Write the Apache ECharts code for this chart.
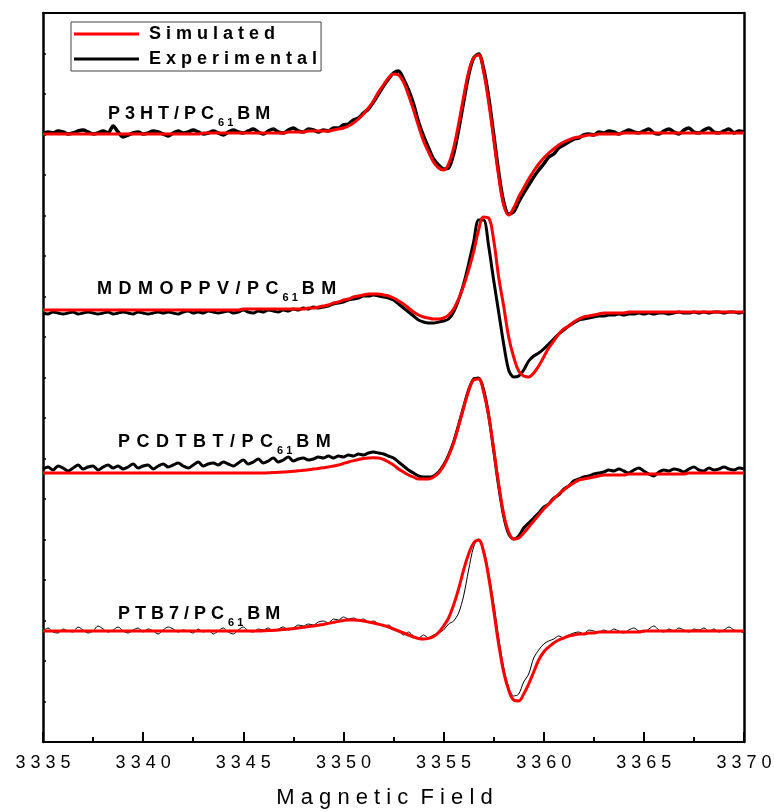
<!DOCTYPE html>
<html><head><meta charset="utf-8">
<script src="https://cdn.jsdelivr.net/npm/echarts/dist/echarts.min.js"></script>
<style>html,body{margin:0;padding:0;background:#fff}#c{width:774px;height:812px}</style>
</head><body><div id="c"></div>
<script>
// Magnetic field (G)
const field = [
3335,3335.25,3335.5,3335.75,3336,3336.25,3336.5,3336.75,3337,3337.25,3337.5,3337.75,
3338,3338.25,3338.5,3338.75,3339,3339.25,3339.5,3339.75,3340,3340.25,3340.5,3340.75,
3341,3341.25,3341.5,3341.75,3342,3342.25,3342.5,3342.75,3343,3343.25,3343.5,3343.75,
3344,3344.25,3344.5,3344.75,3345,3345.25,3345.5,3345.75,3346,3346.25,3346.5,3346.75,
3347,3347.25,3347.5,3347.75,3348,3348.25,3348.5,3348.75,3349,3349.25,3349.5,3349.75,
3350,3350.25,3350.5,3350.75,3351,3351.25,3351.5,3351.75,3352,3352.25,3352.5,3352.75,
3353,3353.25,3353.5,3353.75,3354,3354.25,3354.5,3354.75,3355,3355.25,3355.5,3355.75,
3356,3356.25,3356.5,3356.75,3357,3357.25,3357.5,3357.75,3358,3358.25,3358.5,3358.75,
3359,3359.25,3359.5,3359.75,3360,3360.25,3360.5,3360.75,3361,3361.25,3361.5,3361.75,
3362,3362.25,3362.5,3362.75,3363,3363.25,3363.5,3363.75,3364,3364.25,3364.5,3364.75,
3365,3365.25,3365.5,3365.75,3366,3366.25,3366.5,3366.75,3367,3367.25,3367.5,3367.75,
3368,3368.25,3368.5,3368.75,3369,3369.25,3369.5,3369.75,3370];

// P3HT/PC61BM (stacked intensity, arb. units)
const simP3HT = [
608,608,608,608,608,608,608,608,608,608,608,608,608,608,608,608,
608,608,608,608,608,608,608,608,608,608,608,608,608,608,608,608,
609,609,609,609,609,609,609,609,609,609,609,609,609,609,609,609,
609,610,610,610,610,611,611,611,611,611,612,613,614,616,619,623,
628,634,641,650,657,664,668,667,660,647,632,616,601,590,580,574,
572,578,594,618,645,670,684,687,670,640,603,566,537,527,534,545,
554,563,571,578,584,589,593,597,600,602,604,605,606,607,607,608,
608,608,608,608,609,609,609,609,609,609,609,609,609,609,609,609,
609,609,609,609,609,609,609,609,609,609,609,609,609];
const expP3HT = [
608,610,609,611,610,608,609,611,612,610,608,609,611,609,616,610,
605,607,609,610,608,609,611,610,608,606,609,611,609,610,612,610,
608,609,611,609,607,610,612,610,609,611,613,610,608,611,613,610,
609,612,614,611,610,613,612,610,612,611,614,614,617,618,622,624,
629,633,640,648,656,663,669,671,663,652,638,620,606,594,583,577,
573,574,588,612,640,667,684,688,673,645,608,570,540,528,530,540,
549,557,565,572,578,585,588,594,597,600,603,604,607,608,607,610,
609,611,610,608,610,612,610,609,611,613,609,608,611,613,610,608,
612,614,610,609,612,614,610,609,611,613,609,611,610];

// MDMOPPV/PC61BM
const simMDMO = [
432,432,432,432,432,432,432,432,432,432,432,432,432,432,432,432,
432,432,432,432,432,432,432,432,432,432,432,432,432,432,432,432,
432,432,432,432,432,432,432,432,433,433,433,433,433,433,433,433,
433,433,433,433,433,434,434,435,436,437,439,440,442,443,445,446,
447,448,448,448,447,446,444,441,438,434,430,427,425,424,423,423,
424,427,433,443,456,472,490,512,525,524,502,465,436,405,385,371,
366,365,369,376,385,394,401,408,413,416,420,423,425,426,427,428,
429,429,429,429,429,430,430,430,430,430,430,430,430,430,430,430,
430,430,430,430,430,430,430,430,430,430,430,430,430];
const expMDMO = [
429,428,430,429,428,429,430,428,429,430,429,428,429,430,428,429,
430,429,428,430,429,428,429,430,429,430,429,428,430,431,429,430,
429,431,430,429,430,431,429,430,432,430,429,431,430,432,431,430,
432,431,433,432,434,433,435,434,435,436,438,439,440,442,443,444,
446,446,447,446,445,444,442,438,434,430,426,422,420,419,419,420,
421,423,430,442,458,478,500,522,522,496,462,430,398,372,365,366,
372,381,386,389,393,398,403,408,412,416,419,422,423,424,425,426,
426,427,427,428,427,428,428,429,428,429,428,429,429,428,429,430,
429,429,430,429,430,429,430,430,429,430,430,429,430];

// PCDTBT/PC61BM
const simPCD = [
269,269,269,269,269,269,269,269,269,269,269,269,269,269,269,269,
269,269,269,269,269,269,269,269,269,269,269,269,269,269,269,269,
269,269,269,269,269,269,269,269,269,269,269,269,269,269.2,269.4,269.7,
270,270.3,270.7,271.2,271.7,272.3,272.9,273.5,274.2,275,276,277,278.5,280,281.3,282.5,
283.4,284,284.2,284,282.5,280,277,273,270,267,265,263,263,263,265,269,
276,286,299,316,334,351,362,363,350,326,293,258,228,210,203,204,
209,215,221,227,233,238,243,248,252,256,259,262,263,264,265,266,
267,267,267,267,267,268,268,268,268,268,268,268,268,268,268,268,
268,269,269,269,269,269,269,269,269,269,269,269,269];
const expPCD = [
273,275,272,276,274,271,274,277,273,275,276,272,275,277,274,276,
273,275,278,274,276,277,273,276,278,275,277,279,276,274,277,280,
276,278,279,277,280,278,276,279,282,278,280,283,279,281,284,280,
282,285,281,283,284,282,283,285,284,286,284,286,285,287,286,288,
287,289,290,289,288,286,284,280,276,272,269,266,265,265,266,270,
277,287,300,317,335,352,363,364,352,327,292,256,226,208,203,206,
214,219,224,229,235,238,244,247,253,256,261,263,265,266,268,269,
270,272,271,273,271,269,272,274,271,268,266,270,272,271,273,272,
270,273,275,272,271,274,272,273,275,273,272,274,273];

// PTB7/PC61BM
const simPTB7 = [
111,111,111,111,111,111,111,111,111,111,111,111,111,111,111,111,
111,111,111,111,111,111,111,111,111,111,111,111,111,111,111,111,
111,111,111,111,111,111,111,111,111,111,111,111,111.2,111.4,111.7,112,
112.4,112.9,113.4,114,114.7,115.4,116.1,116.8,117.6,118.6,119.6,120.6,121.5,122,122,121.7,
121,120,119,117.8,116.5,115,113,111,109,107,105,103.5,103,103.6,105.6,109.5,
116,124,137,153,172,188,199,202,190,165,132,98,70,52,42,41,
48,58,70,82,90,95,99,102,104,106,107,108,108,109,109,110,
110,110,110,110,110,110,110,110,111,111,111,111,111,111,111,111,
111,111,111,111,111,111,111,111,111,111,111,111,111];
const expPTB7 = [
111,114,110,109,113,111,110,115,112,109,111,116,113,110,112,115,
111,109,112,114,110,113,111,108,112,115,113,110,112,111,109,113,
110,112,108,111,114,110,108,112,115,111,110,113,112,114,111,113,
115,112,114,117,116,118,117,120,121,119,123,122,125,123,124,122,
123,120,121,118,116,117,113,111,107,110,106,104,107,104,107,109,
112,118,121,129,146,172,195,203,193,170,140,105,75,55,46,48,
60,68,84,92,98,101,103,106,104,107,109,110,108,112,111,110,
112,110,113,111,109,112,114,111,110,113,116,112,110,113,111,114,
112,110,113,112,114,111,113,110,112,115,112,111,109];

const xTicks = [3335,3340,3345,3350,3355,3360,3365,3370];
const legendNames = ['Simulated','Experimental'];
const sampleLabels = [
  {main:'P3HT/PC', sub:'61', tail:'BM'},
  {main:'MDMOPPV/PC', sub:'61', tail:'BM'},
  {main:'PCDTBT/PC', sub:'61', tail:'BM'},
  {main:'PTB7/PC', sub:'61', tail:'BM'}
];

const FONT = '"Liberation Sans", Arial, Helvetica, sans-serif';
const pairs = ys => field.map((f, i) => [f, ys[i]]);
const spaced = (s, sep) => s.split('').join(sep || ' ');

const samples = [
  {exp: expP3HT, sim: simP3HT, w: 3.5},
  {exp: expMDMO, sim: simMDMO, w: 3},
  {exp: expPCD, sim: simPCD, w: 3},
  {exp: expPTB7, sim: simPTB7, w: 1}
];
const series = [];
samples.forEach(s => {
  series.push({name:'Experimental', type:'line', data:pairs(s.exp), showSymbol:false, smooth:0.3,
    color:'#000', lineStyle:{color:'#000', width:s.w}, z:2});
});
samples.forEach(s => {
  series.push({name:'Simulated', type:'line', data:pairs(s.sim), showSymbol:false, smooth:0.4,
    color:'#ff0000', lineStyle:{color:'#ff0000', width:3}, z:3});
});

// label placement (pixel positions of the annotations)
const labelPos = [[108, 100], [97, 275], [118, 428], [118, 600]];
const labelSep = [' ', ' \u200A', ' \u200A', ' '];
const graphics = sampleLabels.map((l, i) => ({
  type:'text', left: labelPos[i][0], top: labelPos[i][1], z: 10,
  style:{
    text: '{a|' + spaced(l.main, labelSep[i]) + '}{s|' + spaced(l.sub) + '}{a|' + spaced(l.tail, labelSep[i]) + '}',
    rich:{
      a:{fontFamily:FONT, fontWeight:'bold', fontSize:18, lineHeight:20, fill:'#000'},
      s:{fontFamily:FONT, fontWeight:'bold', fontSize:11, lineHeight:13, padding:[17,4,0,4], fill:'#000'}
    }
  }
}));

const chart = echarts.init(document.getElementById('c'), null, {renderer:'canvas'});
chart.setOption({
  animation:false,
  backgroundColor:'#fff',
  grid:{left:43, right:30, top:13, bottom:70, containLabel:false, outerBoundsMode:'none'},
  legend:{
    data: legendNames, orient:'vertical', left:71, top:22, padding:[3,4,3,3], itemGap:7,
    itemWidth:65, itemHeight:3, icon:'rect', borderColor:'#444', borderWidth:1,
    formatter: n => ' ' + spaced(n),
    textStyle:{fontFamily:FONT, fontSize:18, fontWeight:'bold', color:'#000'}
  },
  xAxis:[{
    type:'value', min:xTicks[0], max:xTicks[xTicks.length-1], interval:5,
    axisLine:{onZero:false, lineStyle:{color:'#000', width:2}},
    axisTick:{inside:true, length:10, lineStyle:{color:'#000', width:2}},
    minorTick:{show:true, splitNumber:2, length:5, lineStyle:{color:'#000', width:2}},
    splitLine:{show:false},
    axisLabel:{margin:12, color:'#000', fontSize:18, fontFamily:FONT, formatter: v => spaced(String(v))},
    name:'M a g n e t i c  F i e l d', nameLocation:'middle', nameGap:45,
    nameTextStyle:{fontSize:22, color:'#000', fontFamily:FONT, padding:[0,18,0,0]}
  },{
    type:'value', position:'top', min:xTicks[0], max:xTicks[xTicks.length-1],
    axisLine:{show:true, onZero:false, lineStyle:{color:'#000', width:2}},
    axisTick:{show:false}, axisLabel:{show:false}, splitLine:{show:false}
  }],
  yAxis:[{
    type:'value', min:0, max:729, interval:40.5,
    axisLine:{show:true, onZero:false, lineStyle:{color:'#000', width:2.5}},
    axisTick:{show:true, inside:true, length:3, lineStyle:{color:'#000', width:1.5}},
    axisLabel:{show:false}, splitLine:{show:false}
  },{
    type:'value', position:'right', min:0, max:729,
    axisLine:{show:true, onZero:false, lineStyle:{color:'#000', width:2.5}},
    axisTick:{show:false}, axisLabel:{show:false}, splitLine:{show:false}
  }],
  graphic: graphics,
  series: series
});
</script>
</body></html>
